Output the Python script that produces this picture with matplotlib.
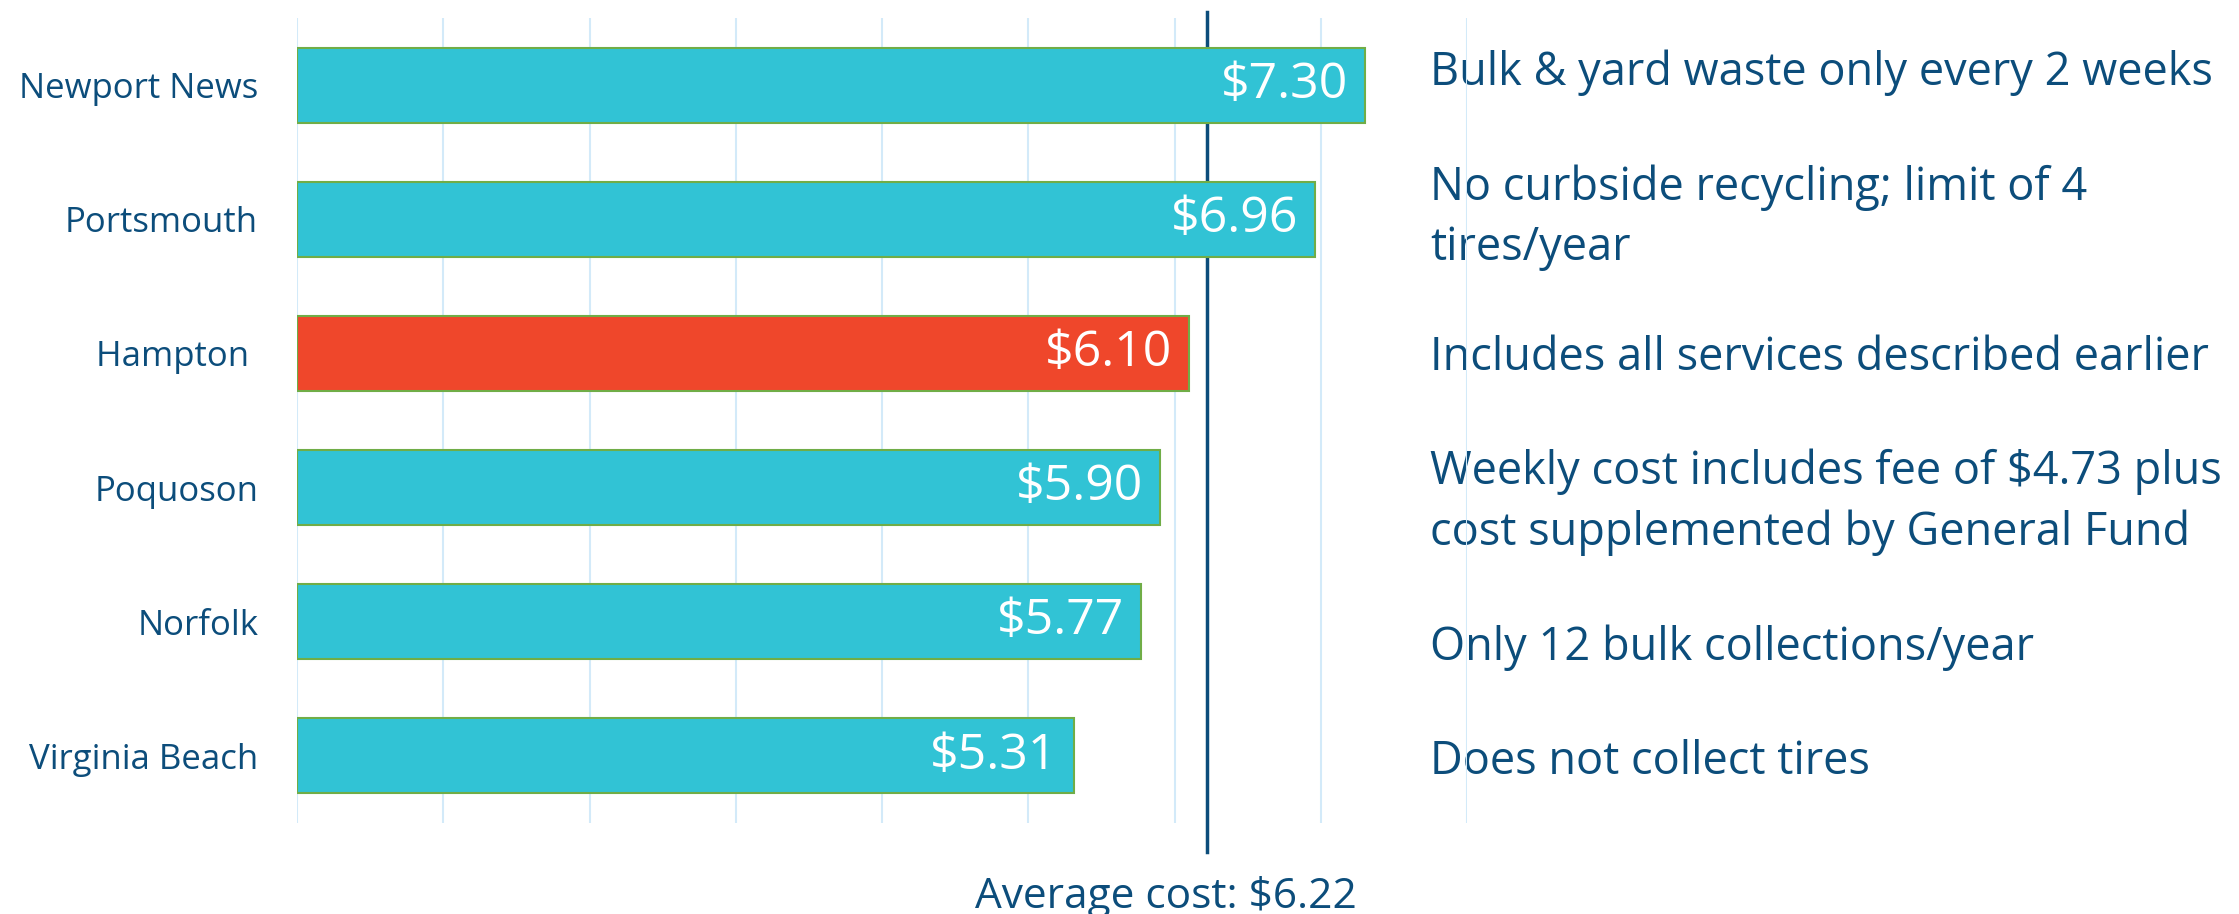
import matplotlib.pyplot as plt
import matplotlib.transforms as mtransforms

plt.rcParams['font.family'] = ['Open Sans', 'DejaVu Sans']

# data
cities = ["Newport News", "Portsmouth", "Hampton ", "Poquoson", "Norfolk", "Virginia Beach"]
weekly_cost = [7.30, 6.96, 6.10, 5.90, 5.77, 5.31]
value_labels = ["$7.30", "$6.96", "$6.10", "$5.90", "$5.77", "$5.31"]
notes = [
    "Bulk & yard waste only every 2 weeks",
    "No curbside recycling; limit of 4\ntires/year",
    "Includes all services described earlier",
    "Weekly cost includes fee of $4.73 plus\ncost supplemented by General Fund",
    "Only 12 bulk collections/year",
    "Does not collect tires",
]
average_cost = 6.22
highlight = "Hampton "

# layout: vertical nudge of each note relative to its bar (in bar units)
note_shift = [-0.09, -0.01, 0.035, 0.11, 0.195, 0.045]

dark_blue = "#0C4D7B"
cyan = "#31C3D5"
red = "#EF472B"
edge_green = "#70AD47"
grid_blue = "#D3EAF9"

fig = plt.figure(figsize=(22.39, 9.14), dpi=100)
ax = fig.add_axes([0.1327, 0.0996, 0.5225, 0.8807])

ypos = list(range(len(cities)))
colors = [red if c == highlight else cyan for c in cities]
bars = ax.barh(ypos, weekly_cost, height=0.56, color=colors,
               edgecolor=edge_green, linewidth=1.5, zorder=2)

# value labels inside bar ends
for y, v, lab in zip(ypos, weekly_cost, value_labels):
    ax.annotate(lab, xy=(v, y), xytext=(-12, 0), textcoords="offset points",
                ha="right", va="center", color="white", fontsize=36, zorder=3)

# notes to the right
for y, note, dy in zip(ypos, notes, note_shift):
    ax.text(7.75, y + dy, note, ha="left", va="center", color=dark_blue,
            fontsize=32.5, linespacing=1.4, clip_on=False, zorder=0.4)

# average line (behind the bars)
trans = mtransforms.blended_transform_factory(ax.transData, ax.transAxes)
ax.plot([average_cost, average_cost], [-0.036, 1.0075], color=dark_blue,
        linewidth=2.5, transform=trans, clip_on=False, zorder=1.5)
ax.annotate("Average cost: $%.2f" % average_cost, xy=(average_cost - 0.28, 0),
            xycoords=trans, xytext=(0, -53), textcoords="offset points",
            ha="center", va="center", color=dark_blue, fontsize=30.5,
            annotation_clip=False)

# axes formatting
ax.set_xlim(0, 8)
ax.set_ylim(5.5, -0.5)
ax.set_xticks(range(0, 9))
ax.set_xticklabels([])
ax.tick_params(axis="x", length=0)
ax.set_yticks(ypos)
ax.set_yticklabels(cities, fontsize=25, color=dark_blue)
ax.tick_params(axis="y", length=0, pad=28)
ax.grid(True, axis="x", color=grid_blue, linewidth=1.5)
ax.set_axisbelow(True)
for s in ax.spines.values():
    s.set_visible(False)

plt.savefig("out.png", dpi=100)
